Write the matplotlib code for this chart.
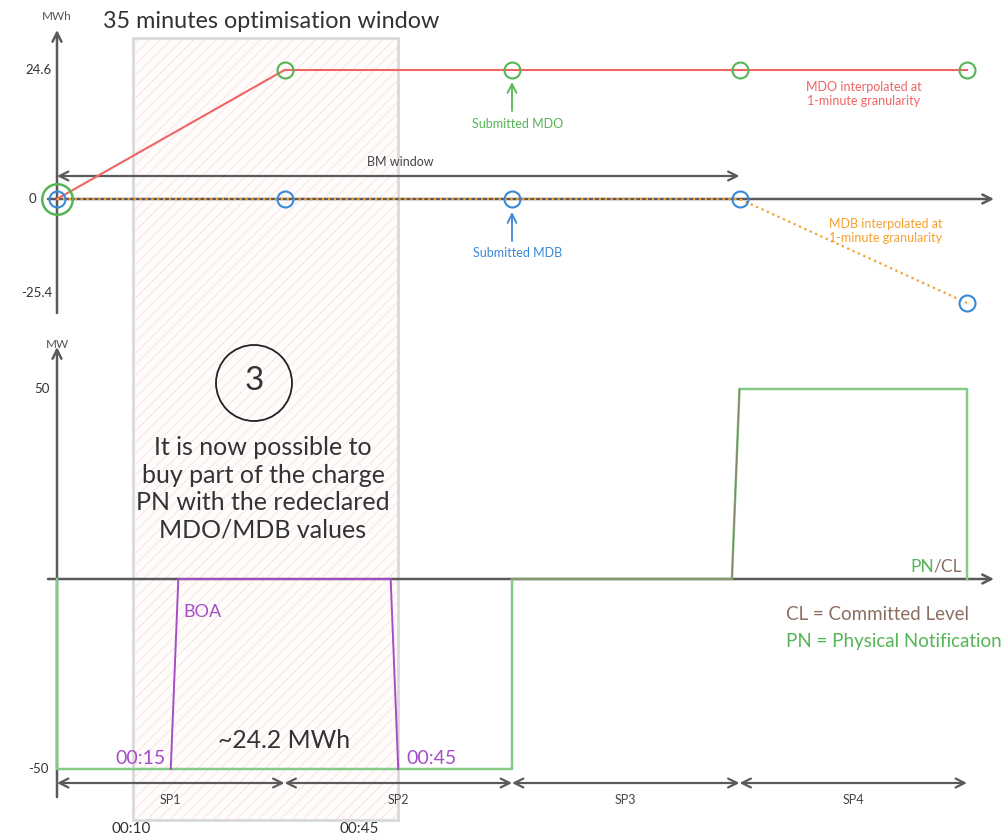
import matplotlib.pyplot as plt
import numpy as np
from matplotlib.patches import Rectangle, Circle
from matplotlib.transforms import blended_transform_factory

plt.rcParams['font.family'] = ['Lato', 'DejaVu Sans']
plt.rcParams['hatch.linewidth'] = 0.7

# data (minutes from 00:00, MWh / MW)
sp_bounds = [0, 30, 60, 90, 120]
sp_labels = ['SP1', 'SP2', 'SP3', 'SP4']
mdo_times = [0, 30, 60, 90, 120]
mdo_values = [0, 24.6, 24.6, 24.6, 24.6]
mdb_times = [0, 30, 60, 90, 120]
mdb_values = [0, 0, 0, 0, -25.4]
pn_times = [0, 0, 60, 60, 89, 90, 120, 120]
pn_values = [0, -50, -50, 0, 0, 50, 50, 0]
cl_times = [60, 89, 90]
cl_values = [0, 0, 50]
boa_times = [15, 16, 44, 45]
boa_values = [-50, 0, 0, -50]
window_start, window_end = 10, 45
bm_window = [0, 90]

RED = '#f06464'
GREEN = '#55b555'
PN_GREEN = '#86cc86'
BLUE = '#3a88d8'
ORANGE = '#f5a030'
PURPLE = '#a64cc8'
BROWN = '#8d6e63'
AX = '#5a5a5a'
TXT = '#333333'

W, H = 1002, 839
fig = plt.figure(figsize=(W / 100, H / 100), dpi=100)

# pixel helpers for layout only
X0, PXMIN = 57, 227.5 / 30
def mx(px):
    return (px - X0) / PXMIN

UP, DOWN = 129 / 24.6, 104 / 25.4
def fwd(y):
    y = np.asarray(y, float)
    return np.where(y >= 0, y * UP, y * DOWN)
def inv(p):
    p = np.asarray(p, float)
    return np.where(p >= 0, p / UP, p / DOWN)

xlim = (mx(0), mx(W))

ax_top = fig.add_axes([0, 1 - 330 / H, 1, 330 / H])
ax_top.set_yscale('function', functions=(fwd, inv))
ax_top.set_xlim(*xlim)
ax_top.set_ylim(float(inv(199 - 330)), float(inv(199)))
def ty(py):
    return float(inv(199 - py))

ax_bot = fig.add_axes([0, 0, 1, 509 / H])
MWPX = 190 / 50
ax_bot.set_xlim(*xlim)
ax_bot.set_ylim(-(H - 579) / MWPX, (579 - 330) / MWPX)
def by(py):
    return (579 - py) / MWPX

for ax in (ax_top, ax_bot):
    ax.set_facecolor('none')
    ax.axis('off')

def arrow(ax, start, end, style='->', color=AX, lw=1.8):
    ax.annotate('', xy=end, xytext=start,
                arrowprops=dict(arrowstyle=style, color=color, lw=lw,
                                mutation_scale=16, shrinkA=0, shrinkB=0))

# optimisation window box across both panels
tr = blended_transform_factory(ax_bot.transData, fig.transFigure)
box_kw = dict(xy=(window_start, 1 - 820 / H), width=window_end - window_start,
              height=(820 - 38) / H, transform=tr)
fig.add_artist(Rectangle(**box_kw, facecolor='#fffcfc', edgecolor='#fbe4e4',
                         hatch='///', linewidth=0, zorder=-2))
fig.add_artist(Rectangle(**box_kw, facecolor='none', edgecolor='#d9d9d9',
                         linewidth=2, zorder=-1))
fig.text(271 / W, 1 - 22 / H, '35 minutes optimisation window', ha='center',
         va='center', fontsize=16.8, color=TXT)

# ---- top panel: MDO / MDB ----
arrow(ax_top, (0, ty(313)), (0, ty(30)))
arrow(ax_top, (mx(48), 0), (mx(994), 0))
ax_top.text(0, ty(17), 'MWh', ha='center', va='center', fontsize=8.5, color='#555')
ax_top.text(mx(52), 24.6, '24.6', ha='right', va='center', fontsize=9.5, color=TXT)
ax_top.text(mx(36), 0, '0', ha='right', va='center', fontsize=9.5, color=TXT)
ax_top.text(mx(52), ty(293), '-25.4', ha='right', va='center', fontsize=9.5, color=TXT)

arrow(ax_top, (bm_window[0], ty(176)), (bm_window[1], ty(176)), style='<->', lw=1.6)
ax_top.text(mx(400), ty(162), 'BM window', ha='center', va='center', fontsize=9, color='#444')

ax_top.plot(mdo_times, mdo_values, color=RED, lw=1.5, zorder=3)
ax_top.plot(mdb_times, mdb_values, color=ORANGE, lw=1.6, ls=':', zorder=3)
ax_top.plot(mdo_times[1:], mdo_values[1:], 'o', ms=11.5, mfc='none', mec=GREEN, mew=1.5, zorder=4)
ax_top.plot(mdo_times[:1], mdo_values[:1], 'o', ms=22, mfc='none', mec=GREEN, mew=1.8, zorder=4)
ax_top.plot(mdb_times, mdb_values, 'o', ms=11.5, mfc='none', mec=BLUE, mew=1.5, zorder=5)

arrow(ax_top, (60, ty(111)), (60, ty(82)), color=GREEN, lw=1.3)
ax_top.text(mx(518), ty(124), 'Submitted MDO', ha='center', va='center', fontsize=9, color=GREEN)
arrow(ax_top, (60, ty(241)), (60, ty(212)), color=BLUE, lw=1.3)
ax_top.text(mx(518), ty(253), 'Submitted MDB', ha='center', va='center', fontsize=9, color=BLUE)
ax_top.text(mx(864), ty(94), 'MDO interpolated at\n1-minute granularity', ha='center',
            va='center', fontsize=9, color=RED, linespacing=1.15)
ax_top.text(mx(886), ty(231), 'MDB interpolated at\n1-minute granularity', ha='center',
            va='center', fontsize=9, color=ORANGE, linespacing=1.15)

# ---- bottom panel: PN / CL / BOA ----
arrow(ax_bot, (0, by(797)), (0, by(347)))
arrow(ax_bot, (mx(48), 0), (mx(994), 0))
ax_bot.text(0, by(345), 'MW', ha='center', va='center', fontsize=8.5, color='#555')
ax_bot.text(mx(50), 50, '50', ha='right', va='center', fontsize=9.5, color=TXT)
ax_bot.text(mx(48), -50, '-50', ha='right', va='center', fontsize=9.5, color=TXT)

ax_bot.plot(pn_times, pn_values, color=PN_GREEN, lw=1.8, zorder=3)
ax_bot.plot(cl_times, cl_values, color=BROWN, lw=1.0, alpha=0.8, zorder=4)
ax_bot.plot(boa_times, boa_values, color=PURPLE, lw=1.4, zorder=5)

for a, b, lab in zip(sp_bounds[:-1], sp_bounds[1:], sp_labels):
    arrow(ax_bot, (a, by(783)), (b, by(783)), style='<->', lw=1.6)
    ax_bot.text((a + b) / 2, by(800), lab, ha='center', va='center', fontsize=9, color='#444')

ax_bot.text(mx(131), by(829), '00:10', ha='center', va='center', fontsize=11, color=TXT)
ax_bot.text(mx(359), by(829), '00:45', ha='center', va='center', fontsize=11, color=TXT)

ax_bot.text(mx(183), by(612), 'BOA', ha='left', va='center', fontsize=13, color=PURPLE)
ax_bot.text(mx(166), by(758), '00:15', ha='right', va='center', fontsize=14, color=PURPLE)
ax_bot.text(mx(406), by(758), '00:45', ha='left', va='center', fontsize=14, color=PURPLE)
ax_bot.text(mx(284), by(740), '~24.2 MWh', ha='center', va='center', fontsize=17.8, color=TXT)

t1 = ax_bot.text(mx(910), by(567), 'PN', ha='left', va='center', fontsize=12.5, color=GREEN)
ax_bot.annotate('/CL', xycoords=t1, xy=(1, 0.5), va='center', ha='left',
                fontsize=12.5, color=BROWN)
ax_bot.text(mx(786), by(614), 'CL = Committed Level', ha='left', va='center',
            fontsize=13.5, color=BROWN)
ax_bot.text(mx(786), by(641), 'PN = Physical Notification', ha='left', va='center',
            fontsize=13.5, color=GREEN)

# step marker and explanation
fig.add_artist(Circle((2.54, (H - 383) / 100), 0.38, transform=fig.dpi_scale_trans,
                      fill=False, ec='#222', lw=1.3))
ax_bot.text(mx(254), by(381), '3', ha='center', va='center', fontsize=24, color=TXT)
ax_bot.text(mx(263), by(489), 'It is now possible to\nbuy part of the charge\n'
            'PN with the redeclared\nMDO/MDB values', ha='center', va='center',
            fontsize=18, color=TXT, linespacing=1.24)

fig.savefig('out.png', dpi=100)
